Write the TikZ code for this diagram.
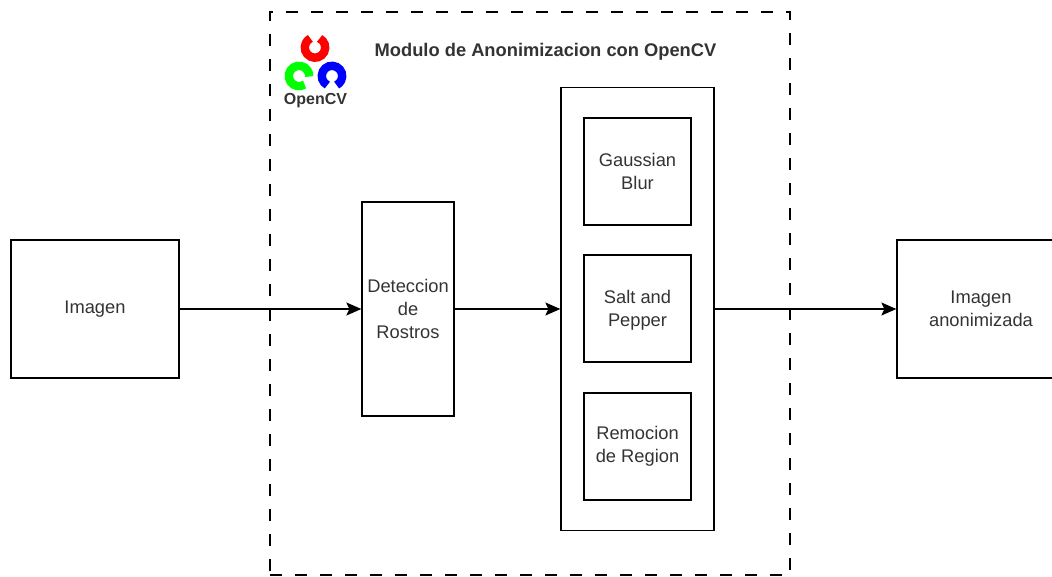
\documentclass[tikz,border=0pt]{standalone}
\usepackage{fontspec}
\setmainfont{Liberation Sans}
\usetikzlibrary{arrows.meta}
\tikzstyle{box}=[draw, line width=1.3pt, inner sep=0pt, align=center, font=\fontsize{18.3}{23}\selectfont, text=black!80]
\tikzstyle{link}=[line width=1.3pt, -{Stealth[length=15pt, width=13pt, inset=3pt]}]
\tikzstyle{ring}=[line width=8.4pt]

\begin{document}
\begin{tikzpicture}[x=1pt, y=-1pt]
\useasboundingbox (0,0) rectangle (1052,577);
% Module frame
    \node[draw, line width=1.3pt, dash pattern=on 12pt off 13pt, minimum width=520pt, minimum height=563pt, inner sep=0pt] (modulo) at (530,293.5) {};
    \node[font=\fontsize{18.3}{20}\selectfont\bfseries, text=black!80] (titulo) at (545.5,52) {Modulo de Anonimizacion con OpenCV};
% Logo
    \draw[ring, red] (315,47.5) ++(-63:10.2) arc[start angle=-63, end angle=243, radius=10.2];
    \draw[ring, green] (299,76) ++(57:10.2) arc[start angle=57, end angle=363, radius=10.2];
    \draw[ring, blue] (332,76) ++(117:10.2) arc[start angle=117, end angle=423, radius=10.2];
    \node[font=\fontsize{16}{18}\selectfont\bfseries, text=black!80] (logo) at (315.5,100.5) {OpenCV};
% Boxes
    \node[box, minimum width=168pt, minimum height=138pt] (imagen) at (95,309) {Imagen};
    \node[box, minimum width=92pt, minimum height=214pt] (deteccion) at (408,309) {Deteccion\\de\\Rostros};
    \node[box, minimum width=153pt, minimum height=443pt] (filtros) at (637.5,309) {};
    \node[box, minimum width=107pt, minimum height=107pt] (gaussian) at (637.5,171.5) {Gaussian\\Blur};
    \node[box, minimum width=107pt, minimum height=107pt] (salt) at (637.5,308.5) {\rule{0pt}{16pt}Salt and\\Pepper};
    \node[box, minimum width=107pt, minimum height=107pt] (remocion) at (637.5,446.5) {Remocion\\de Region};
    \node[box, minimum width=168pt, minimum height=138pt] (salida) at (981,309) {Imagen\\anonimizada};
% Arrows
    \draw[link] (imagen) -- (deteccion);
    \draw[link] (deteccion) -- (filtros);
    \draw[link] (filtros) -- (salida);
\end{tikzpicture}
\end{document}
